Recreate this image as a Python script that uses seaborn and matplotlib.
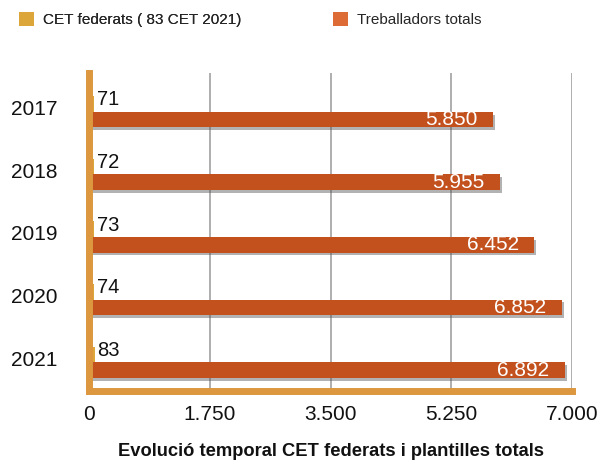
import matplotlib
matplotlib.use("Agg")
import matplotlib.pyplot as plt
import matplotlib.patheffects as pe
import matplotlib.transforms as mtransforms
from matplotlib.patches import Patch
import seaborn as sns
import pandas as pd

years = ['2017', '2018', '2019', '2020', '2021']
cet_federats = [71, 72, 73, 74, 83]
treballadors = [5850, 5955, 6452, 6852, 6892]
x_ticks = [0, 1750, 3500, 5250, 7000]
x_tick_labels = ['0', '1.750', '3.500', '5.250', '7.000']
series_names = ['CET federats ( 83 CET 2021)', 'Treballadors totals']
legend_colors = ['#DDA63A', '#DD6B36']
bar_colors = ['#DDA63A', '#C2511E']
spine_color = '#DC973F'

sns.set_theme(style='white')
plt.rcParams['font.family'] = ['Liberation Sans', 'DejaVu Sans']

df = pd.DataFrame({
    'year': years * 2,
    'value': cet_federats + treballadors,
    'series': [series_names[0]] * len(years) + [series_names[1]] * len(years),
})

fig = plt.figure(figsize=(6.02, 4.61), dpi=100)
ax = fig.add_axes([89 / 602, 70 / 461, 483 / 602, 318 / 461])

sns.barplot(data=df, y='year', x='value', hue='series', order=years,
            hue_order=series_names, palette=bar_colors, orient='h',
            width=0.5, dodge=True, legend=False, ax=ax, zorder=3,
            saturation=1)

gold_bars = ax.containers[0]
orange_bars = ax.containers[1]

for patch in ax.patches:
    patch.set_linewidth(0)
for patch in orange_bars:
    patch.set_path_effects([pe.SimplePatchShadow(offset=(1.5, -2), shadow_rgbFace='#555555', alpha=0.45),
                            pe.Normal()])

ax.set_xlim(0, 7000)
ax.set_ylim(4.46, -0.62)
ax.set_xticks(x_ticks)
ax.set_xticklabels(x_tick_labels)
ax.tick_params(axis='x', length=0, pad=10, labelsize=15, colors='#111111')
ax.tick_params(axis='y', length=0, pad=23, labelsize=15, colors='#111111')
offset = mtransforms.ScaledTranslation(0, 3 / 72, fig.dpi_scale_trans)
for lab in ax.get_yticklabels():
    lab.set_transform(lab.get_transform() + offset)

ax.set_ylabel('')
ax.set_xlabel('Evolució temporal CET federats i plantilles totals',
              fontsize=13.2, fontweight='bold', labelpad=14, color='#111111')

ax.grid(axis='x', color='#a8a8a8', linewidth=1.3, zorder=0)
ax.grid(axis='y', visible=False)
ax.set_axisbelow(True)

for s in ['top', 'right']:
    ax.spines[s].set_visible(False)
for s in ['left', 'bottom']:
    ax.spines[s].set_color(spine_color)
    ax.spines[s].set_linewidth(5)
    ax.spines[s].set_zorder(4)

# labels
for rect, v in zip(gold_bars, cet_federats):
    yc = rect.get_y() + rect.get_height() / 2
    ax.annotate(str(v), xy=(0, yc), xytext=(5.5, 3), textcoords='offset points',
                ha='left', va='center', fontsize=14.5, color='#111111', zorder=5)
for rect, v in zip(orange_bars, treballadors):
    yc = rect.get_y() + rect.get_height() / 2
    ax.annotate(f'{v:,}'.replace(',', '.'), xy=(v, yc), xytext=(-11, 0),
                textcoords='offset points', ha='right', va='center',
                fontsize=15, color='white', zorder=5)

# legends
h1 = [Patch(facecolor=legend_colors[0], edgecolor='none')]
h2 = [Patch(facecolor=legend_colors[1], edgecolor='none')]
leg1 = fig.legend(h1, [series_names[0]], loc='upper left',
                  bbox_to_anchor=(19 / 602, 1 - 12 / 461), frameon=False,
                  fontsize=11, handlelength=1.0, handleheight=1.0,
                  handletextpad=0.6, borderpad=0, borderaxespad=0)
leg2 = fig.legend(h2, [series_names[1]], loc='upper left',
                  bbox_to_anchor=(333 / 602, 1 - 12 / 461), frameon=False,
                  fontsize=11, handlelength=1.0, handleheight=1.0,
                  handletextpad=0.6, borderpad=0, borderaxespad=0)
fig.add_artist(leg1)

fig.savefig('out.png', dpi=100)
